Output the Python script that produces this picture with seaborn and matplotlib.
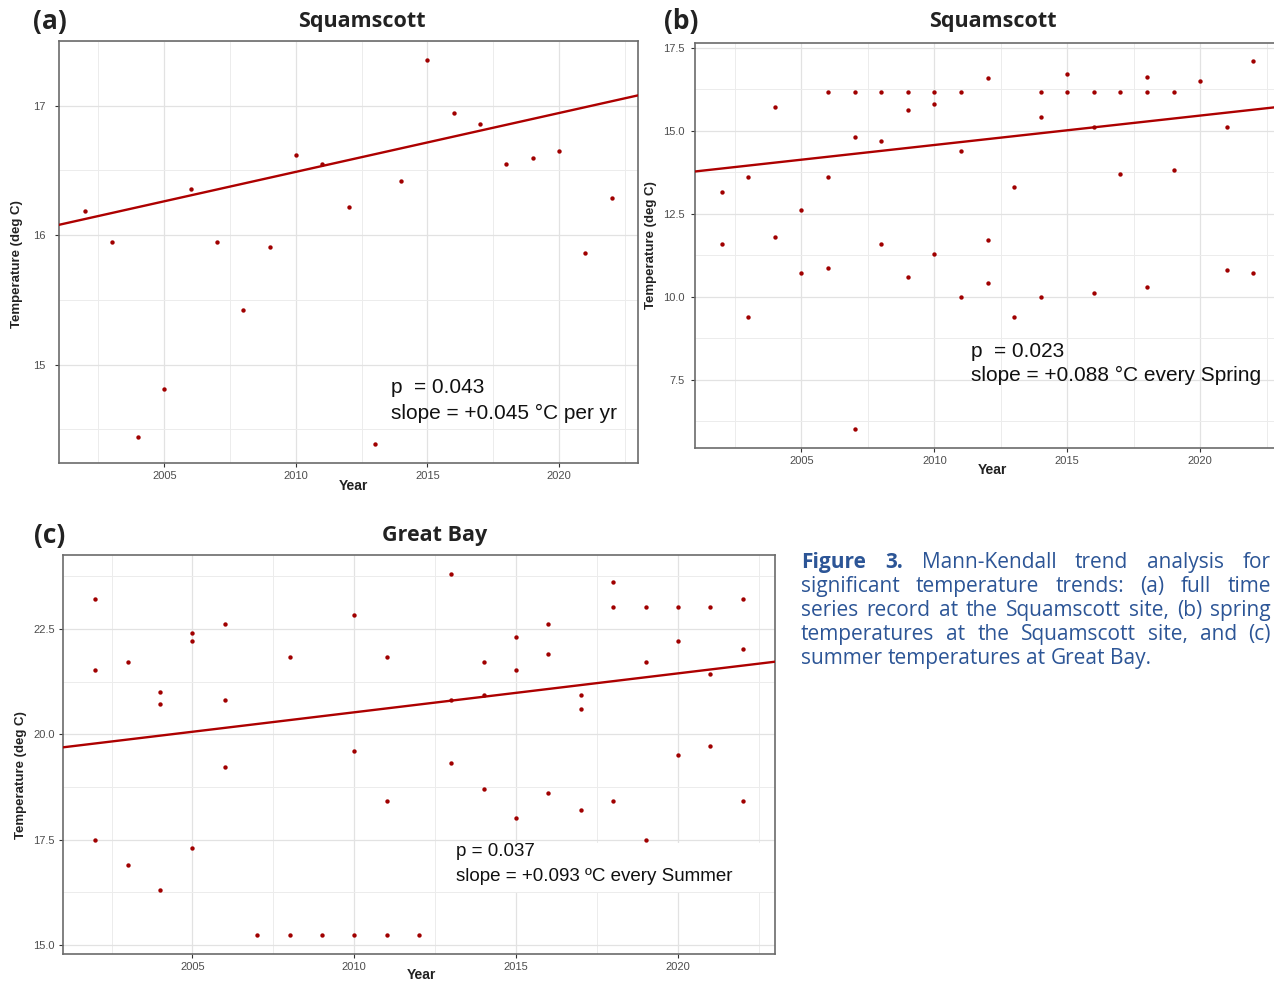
import matplotlib
matplotlib.use("Agg")
import matplotlib.pyplot as plt
import seaborn as sns
import pandas as pd
from matplotlib.patches import Rectangle

# ---------------- data ----------------
years_a = list(range(2002, 2023))
temp_a = [16.19, 15.95, 14.44, 14.81, 16.36, 15.95, 15.42, 15.91, 16.62, 16.55,
          16.22, 14.39, 16.42, 17.35, 16.94, 16.86, 16.55, 16.60, 16.65, 15.86, 16.29]
trend_a_years = [2001, 2023]
trend_a_temp = [16.08, 17.08]

years_b = [2002, 2002, 2003, 2003, 2004, 2004, 2005, 2005,
           2006, 2006, 2006, 2007, 2007, 2007, 2008, 2008, 2008,
           2009, 2009, 2009, 2010, 2010, 2010, 2011, 2011, 2011,
           2012, 2012, 2012, 2013, 2013, 2014, 2014, 2014, 2015, 2015,
           2016, 2016, 2016, 2017, 2017, 2018, 2018, 2018, 2019, 2019,
           2020, 2021, 2021, 2022, 2022]
temp_b = [13.15, 11.61, 13.61, 9.40, 15.72, 11.81, 12.61, 10.71,
          16.18, 13.61, 10.86, 16.18, 14.81, 6.01, 16.18, 14.71, 11.61,
          16.18, 15.62, 10.61, 16.18, 15.82, 11.30, 16.18, 14.41, 10.01,
          16.61, 11.71, 10.41, 13.30, 9.40, 16.18, 15.42, 10.01, 16.72, 16.18,
          16.18, 15.12, 10.11, 16.18, 13.71, 16.62, 16.18, 10.31, 16.18, 13.81,
          16.52, 15.11, 10.81, 17.11, 10.71]
trend_b_years = [2001, 2023]
trend_b_temp = [13.78, 15.73]

years_c = [2002, 2002, 2002, 2003, 2003, 2004, 2004, 2004, 2005, 2005, 2005,
           2006, 2006, 2006, 2007, 2008, 2008, 2009, 2010, 2010, 2010,
           2011, 2011, 2011, 2012, 2013, 2013, 2013, 2014, 2014, 2014,
           2015, 2015, 2015, 2016, 2016, 2016, 2017, 2017, 2017,
           2018, 2018, 2018, 2019, 2019, 2019, 2020, 2020, 2020,
           2021, 2021, 2021, 2022, 2022, 2022]
temp_c = [23.21, 21.52, 17.50, 21.71, 16.91, 21.01, 20.71, 16.31, 22.41, 22.21, 17.31,
          22.61, 20.81, 19.22, 15.23, 21.82, 15.23, 15.23, 22.82, 19.61, 15.23,
          21.82, 18.41, 15.23, 15.23, 23.81, 20.81, 19.31, 21.71, 20.92, 18.71,
          22.31, 21.52, 18.01, 22.61, 21.91, 18.61, 20.92, 20.60, 18.21,
          23.61, 23.01, 18.41, 23.01, 21.71, 17.50, 23.01, 22.21, 19.51,
          23.01, 21.42, 19.71, 23.21, 22.01, 18.41]
trend_c_years = [2001, 2023]
trend_c_temp = [19.69, 21.72]

x_ticks = [2005, 2010, 2015, 2020]
x_minor = [2002.5, 2007.5, 2012.5, 2017.5, 2022.5]

# ---------------- style ----------------
sns.set_theme(style="white")
plt.rcParams["font.family"] = ["Liberation Sans", "DejaVu Sans"]

W, H = 1274, 983
fig = plt.figure(figsize=(W / 100, H / 100), dpi=100)

def ax_at(left, top, right, bottom):
    return fig.add_axes([left / W, 1 - bottom / H, (right - left) / W, (bottom - top) / H])

PT_COL = "#a00000"
LN_COL = "#ad0000"

def style_panel(ax, xlim, ylim, yt, ymin, yfmt, ypad, xlab_xy, ylab_xy):
    ax.set_xlim(*xlim)
    ax.set_ylim(*ylim)
    ax.set_xticks(x_ticks)
    ax.set_xticks(x_minor, minor=True)
    ax.set_yticks(yt)
    ax.set_yticks(ymin, minor=True)
    ax.set_yticklabels([yfmt.format(v) for v in yt])
    ax.set_axisbelow(True)
    ax.grid(which="major", color="#e2e2e2", lw=0.9)
    ax.grid(which="minor", color="#ececec", lw=0.7)
    for s in ax.spines.values():
        s.set_visible(True)
        s.set_color("#6b6b6b")
        s.set_linewidth(1.2)
    ax.tick_params(which="major", length=3, width=0.8, color="#333333",
                   labelsize=8, labelcolor="#4d4d4d", direction="out",
                   bottom=True, left=True)
    ax.tick_params(axis="x", which="major", pad=3)
    ax.tick_params(axis="y", which="major", pad=ypad)
    ax.tick_params(which="minor", length=0)
    ax.set_xlabel("Year", fontsize=10, fontweight="bold", color="#222222")
    ax.set_ylabel("Temperature (deg C)", fontsize=9.5, fontweight="bold", color="#222222")
    ax.xaxis.label.set_va("center")
    ax.yaxis.label.set_va("center")
    ax.xaxis.set_label_coords(*xlab_xy)
    ax.yaxis.set_label_coords(*ylab_xy)

def draw(ax, years, temps, tyears, ttemps):
    df = pd.DataFrame({"Year": years, "Temp": temps})
    tr = pd.DataFrame({"Year": tyears, "Temp": ttemps})
    sns.lineplot(data=tr, x="Year", y="Temp", ax=ax, color=LN_COL, lw=1.7, zorder=3)
    sns.scatterplot(data=df, x="Year", y="Temp", ax=ax, color=PT_COL, s=10,
                    linewidth=0, zorder=4)

# Panel (a)
ax_a = ax_at(59, 41, 638, 463)
draw(ax_a, years_a, temp_a, trend_a_years, trend_a_temp)
style_panel(ax_a, (2001, 2023), (14.24, 17.50), [15, 16, 17], [14.5, 15.5, 16.5, 17.5], "{:g}",
            7, (0.508, -0.0545), (-0.073, 0.4716))
ax_a.text(0.573, 0.178, "p  = 0.043", transform=ax_a.transAxes, fontsize=15, va="center", color="#111111")
ax_a.text(0.573, 0.118, "slope = +0.045 °C per yr", transform=ax_a.transAxes, fontsize=15, va="center", color="#111111")

# Panel (b)
ax_b = ax_at(695, 43, 1280, 448)
draw(ax_b, years_b, temp_b, trend_b_years, trend_b_temp)
style_panel(ax_b, (2001, 2023), (5.45, 17.65), [7.5, 10, 12.5, 15, 17.5],
            [6.25, 8.75, 11.25, 13.75, 16.25], "{:.1f}",
            4.2, (0.509, -0.0543), (-0.0752, 0.501))
ax_b.text(0.472, 0.2395, "p  = 0.023", transform=ax_b.transAxes, fontsize=15, va="center", color="#111111")
ax_b.text(0.472, 0.178, "slope = +0.088 °C every Spring", transform=ax_b.transAxes, fontsize=15, va="center", color="#111111")

# Panel (c)
ax_c = ax_at(63, 555, 775, 954)
draw(ax_c, years_c, temp_c, trend_c_years, trend_c_temp)
style_panel(ax_c, (2001, 2023), (14.79, 24.25), [15, 17.5, 20, 22.5],
            [16.25, 18.75, 21.25, 23.75], "{:.1f}",
            2.8, (0.503, -0.0526), (-0.059, 0.449))
ax_c.add_patch(Rectangle((0.552, 0.155), 0.445, 0.123, transform=ax_c.transAxes,
                         facecolor="white", edgecolor="none", zorder=1.5))
ax_c.text(0.552, 0.258, "p = 0.037", transform=ax_c.transAxes, fontsize=13.5, va="center", color="#111111", zorder=5)
ax_c.text(0.552, 0.195, "slope = +0.093 ºC every Summer", transform=ax_c.transAxes, fontsize=13.5, va="center", color="#111111", zorder=5)

# Titles and panel labels
def ftext(x, y, s, **kw):
    return fig.text(x / W, 1 - y / H, s, **kw)

TF = ["Open Sans", "DejaVu Sans"]
ftext(362, 21, "Squamscott", fontsize=15.5, fontweight="bold", family=TF, ha="center", va="center", color="#222222")
ftext(993, 21, "Squamscott", fontsize=15.5, fontweight="bold", family=TF, ha="center", va="center", color="#222222")
ftext(435, 536, "Great Bay", fontsize=15.5, fontweight="bold", family=TF, ha="center", va="center", color="#222222")
ftext(50, 21, "(a)", fontsize=19, fontweight="bold", family=TF, ha="center", va="center", color="#222222")
ftext(681, 21, "(b)", fontsize=19, fontweight="bold", family=TF, ha="center", va="center", color="#222222")
ftext(50, 536, "(c)", fontsize=19, fontweight="bold", family=TF, ha="center", va="center", color="#222222")

# Caption (justified)
CAP_COL = "#2c5596"
cap_lines = [
    [("Figure", "bold"), ("3.", "bold"), ("Mann-Kendall", "normal"), ("trend", "normal"),
     ("analysis", "normal"), ("for", "normal")],
    [(w, "normal") for w in "significant temperature trends: (a) full time".split()],
    [(w, "normal") for w in "series record at the Squamscott site, (b) spring".split()],
    [(w, "normal") for w in "temperatures at the Squamscott site, and (c)".split()],
    [(w, "normal") for w in "summer temperatures at Great Bay.".split()],
]
cap_left, cap_right = 801, 1271
cap_base0, cap_step = 568, 24
cap_size = 15
fig.canvas.draw()
rend = fig.canvas.get_renderer()

def wwidth(s, weight):
    t = fig.text(0, 0, s, fontsize=cap_size, fontweight=weight, family=TF)
    bb = t.get_window_extent(rend)
    t.remove()
    return bb.width

space_w = wwidth("a a", "normal") - wwidth("aa", "normal")
for i, words in enumerate(cap_lines):
    widths = [wwidth(w, wt) for w, wt in words]
    y = cap_base0 + i * cap_step
    if i < len(cap_lines) - 1:
        gap = (cap_right - cap_left - sum(widths)) / (len(words) - 1)
    else:
        gap = space_w
    x = cap_left
    for (w, wt), ww in zip(words, widths):
        ftext(x, y, w, fontsize=cap_size, fontweight=wt, family=TF, color=CAP_COL, ha="left", va="baseline")
        x += ww + gap

fig.savefig("out.png", dpi=100)
